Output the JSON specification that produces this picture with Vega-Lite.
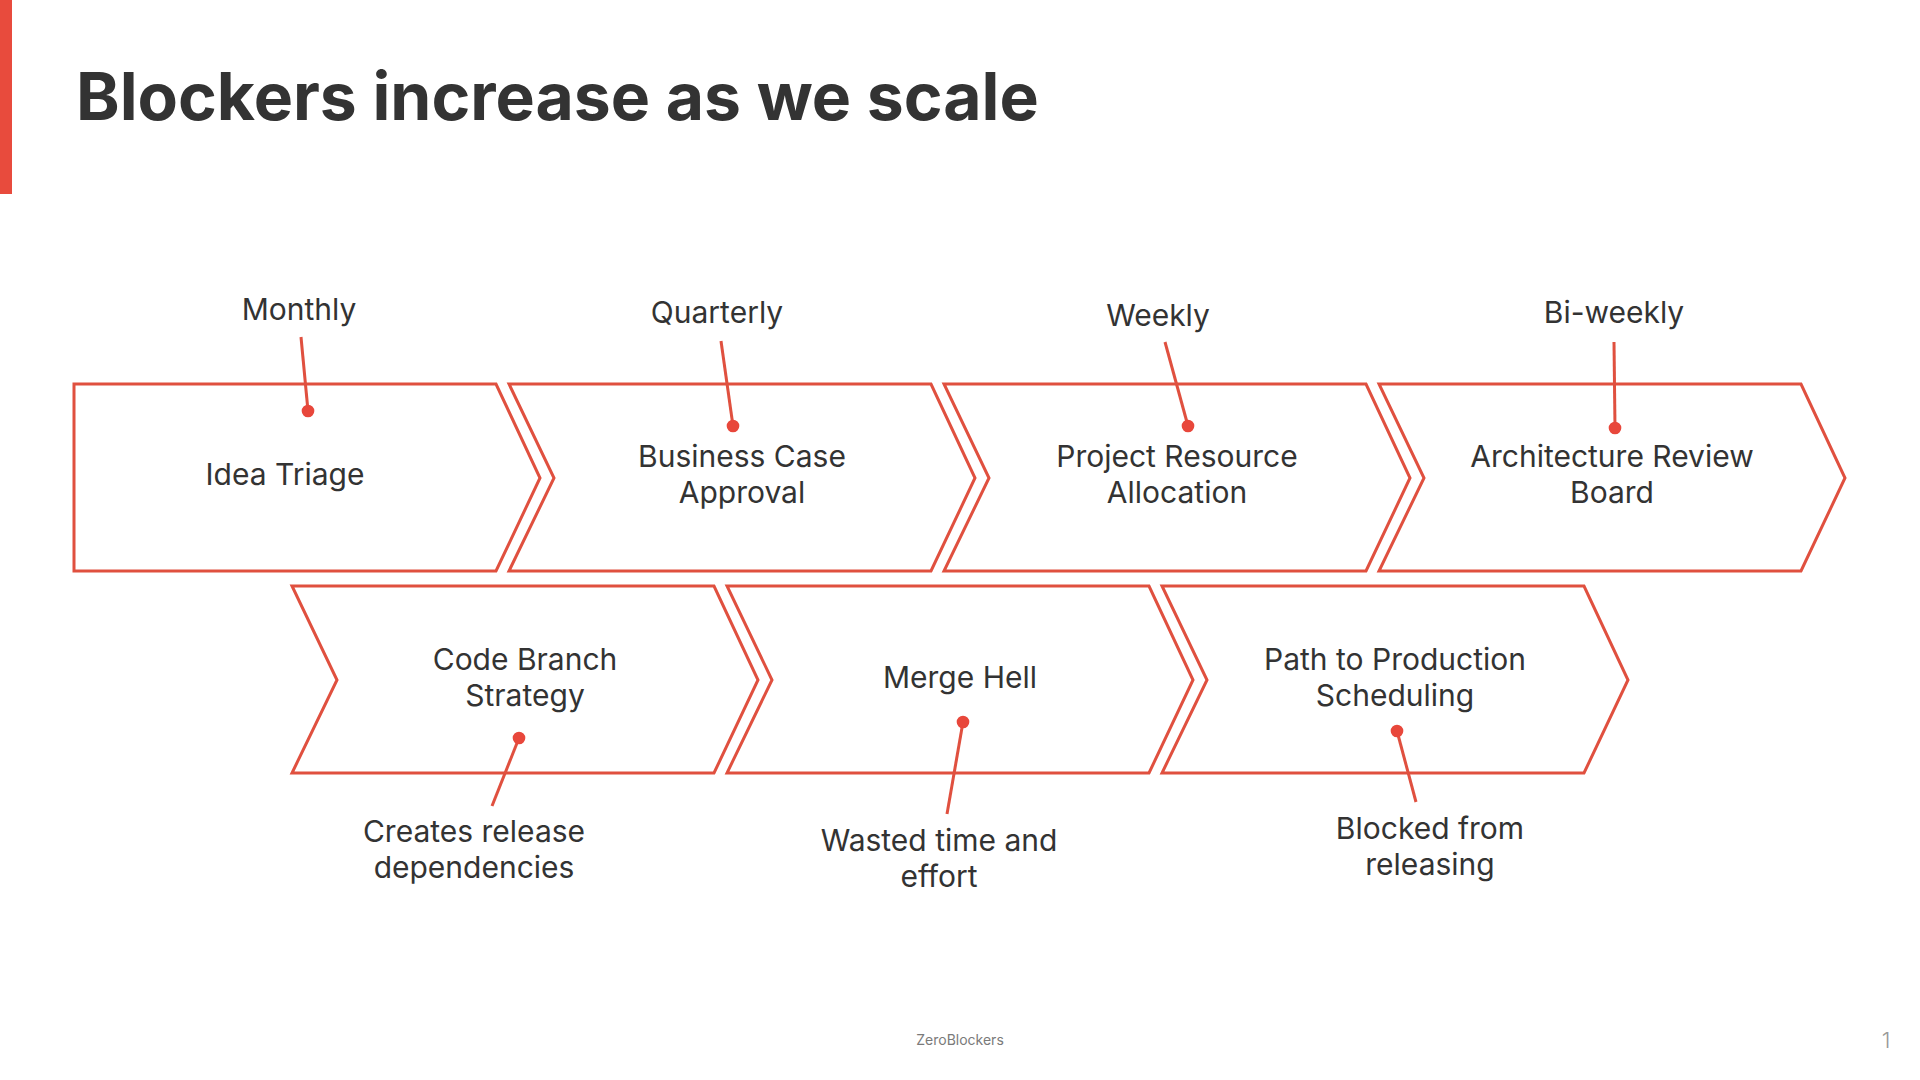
{
  "$schema": "https://vega.github.io/schema/vega-lite/v6.json",
  "width": 1920,
  "height": 1080,
  "autosize": {"type": "fit", "contains": "padding"},
  "padding": 0,
  "background": "#ffffff",
  "config": {"view": {"stroke": null}},
  "datasets": {
    "bar": [{"x": 0, "x2": 12, "y": 0, "y2": 194}],
    "title": [{"text": "Blockers increase as we scale", "x": 76, "y": 120}],
    "shapes": [
      {"shape": "A", "i": 1, "x": 74, "y": 384}, {"shape": "A", "i": 2, "x": 496, "y": 384}, {"shape": "A", "i": 3, "x": 540, "y": 478}, {"shape": "A", "i": 4, "x": 496, "y": 571}, {"shape": "A", "i": 5, "x": 74, "y": 571},
      {"shape": "B", "i": 1, "x": 509, "y": 384}, {"shape": "B", "i": 2, "x": 931, "y": 384}, {"shape": "B", "i": 3, "x": 975, "y": 478}, {"shape": "B", "i": 4, "x": 931, "y": 571}, {"shape": "B", "i": 5, "x": 509, "y": 571}, {"shape": "B", "i": 6, "x": 554, "y": 478},
      {"shape": "C", "i": 1, "x": 944, "y": 384}, {"shape": "C", "i": 2, "x": 1366, "y": 384}, {"shape": "C", "i": 3, "x": 1410, "y": 478}, {"shape": "C", "i": 4, "x": 1366, "y": 571}, {"shape": "C", "i": 5, "x": 944, "y": 571}, {"shape": "C", "i": 6, "x": 989, "y": 478},
      {"shape": "D", "i": 1, "x": 1379, "y": 384}, {"shape": "D", "i": 2, "x": 1801, "y": 384}, {"shape": "D", "i": 3, "x": 1845, "y": 478}, {"shape": "D", "i": 4, "x": 1801, "y": 571}, {"shape": "D", "i": 5, "x": 1379, "y": 571}, {"shape": "D", "i": 6, "x": 1424, "y": 478},
      {"shape": "E", "i": 1, "x": 292, "y": 586}, {"shape": "E", "i": 2, "x": 714, "y": 586}, {"shape": "E", "i": 3, "x": 758, "y": 680}, {"shape": "E", "i": 4, "x": 714, "y": 773}, {"shape": "E", "i": 5, "x": 292, "y": 773}, {"shape": "E", "i": 6, "x": 337, "y": 680},
      {"shape": "F", "i": 1, "x": 727, "y": 586}, {"shape": "F", "i": 2, "x": 1149, "y": 586}, {"shape": "F", "i": 3, "x": 1193, "y": 680}, {"shape": "F", "i": 4, "x": 1149, "y": 773}, {"shape": "F", "i": 5, "x": 727, "y": 773}, {"shape": "F", "i": 6, "x": 772, "y": 680},
      {"shape": "G", "i": 1, "x": 1162, "y": 586}, {"shape": "G", "i": 2, "x": 1584, "y": 586}, {"shape": "G", "i": 3, "x": 1628, "y": 680}, {"shape": "G", "i": 4, "x": 1584, "y": 773}, {"shape": "G", "i": 5, "x": 1162, "y": 773}, {"shape": "G", "i": 6, "x": 1207, "y": 680}
    ],
    "steps": [
      {"label": "Idea Triage", "x": 285, "y": 476},
      {"label": "Business Case\nApproval", "x": 742, "y": 458},
      {"label": "Project Resource\nAllocation", "x": 1177, "y": 458},
      {"label": "Architecture Review\nBoard", "x": 1612, "y": 458},
      {"label": "Code Branch\nStrategy", "x": 525, "y": 661},
      {"label": "Merge Hell", "x": 960, "y": 679},
      {"label": "Path to Production\nScheduling", "x": 1395, "y": 661}
    ],
    "notes": [
      {"note": "Monthly", "tx": 299, "ty": 311, "lx": 301, "ly": 337, "dx": 308, "dy": 411},
      {"note": "Quarterly", "tx": 717, "ty": 314, "lx": 721, "ly": 341, "dx": 733, "dy": 426},
      {"note": "Weekly", "tx": 1158, "ty": 317, "lx": 1165, "ly": 342, "dx": 1188, "dy": 426},
      {"note": "Bi-weekly", "tx": 1614, "ty": 314, "lx": 1614, "ly": 342, "dx": 1615, "dy": 428},
      {"note": "Creates release\ndependencies", "tx": 474, "ty": 833, "lx": 492, "ly": 806, "dx": 519, "dy": 738},
      {"note": "Wasted time and\neffort", "tx": 939, "ty": 842, "lx": 947, "ly": 814, "dx": 963, "dy": 722},
      {"note": "Blocked from\nreleasing", "tx": 1430, "ty": 830, "lx": 1416, "ly": 802, "dx": 1397, "dy": 731}
    ],
    "footer": [
      {"text": "ZeroBlockers", "x": 960, "y": 1041, "kind": "brand"},
      {"text": "1", "x": 1886, "y": 1041, "kind": "page"}
    ]
  },
  "layer": [
    {
      "data": {"name": "bar"},
      "mark": {"type": "rect", "color": "#E84B3D"},
      "encoding": {
        "x": {"field": "x", "type": "quantitative", "scale": {"domain": [0, 1920], "nice": false, "zero": false}, "axis": null},
        "x2": {"field": "x2"},
        "y": {"field": "y", "type": "quantitative", "scale": {"domain": [0, 1080], "nice": false, "zero": false, "reverse": true}, "axis": null},
        "y2": {"field": "y2"}
      }
    },
    {
      "data": {"name": "shapes"},
      "mark": {"type": "line", "interpolate": "linear-closed", "color": "#E0503F", "strokeWidth": 3, "strokeJoin": "miter"},
      "encoding": {
        "x": {"field": "x", "type": "quantitative", "scale": {"domain": [0, 1920], "nice": false, "zero": false}, "axis": null},
        "y": {"field": "y", "type": "quantitative", "scale": {"domain": [0, 1080], "nice": false, "zero": false, "reverse": true}, "axis": null},
        "detail": {"field": "shape", "type": "nominal"},
        "order": {"field": "i", "type": "quantitative"}
      }
    },
    {
      "data": {"name": "notes"},
      "mark": {"type": "rule", "color": "#E0503F", "strokeWidth": 3},
      "encoding": {
        "x": {"field": "lx", "type": "quantitative", "scale": {"domain": [0, 1920], "nice": false, "zero": false}, "axis": null},
        "x2": {"field": "dx"},
        "y": {"field": "ly", "type": "quantitative", "scale": {"domain": [0, 1080], "nice": false, "zero": false, "reverse": true}, "axis": null},
        "y2": {"field": "dy"}
      }
    },
    {
      "data": {"name": "notes"},
      "mark": {"type": "circle", "color": "#E8473B", "opacity": 1, "size": 160},
      "encoding": {
        "x": {"field": "dx", "type": "quantitative", "scale": {"domain": [0, 1920], "nice": false, "zero": false}, "axis": null},
        "y": {"field": "dy", "type": "quantitative", "scale": {"domain": [0, 1080], "nice": false, "zero": false, "reverse": true}, "axis": null}
      }
    },
    {
      "data": {"name": "notes"},
      "mark": {"type": "text", "font": "Inter", "fontSize": 30, "color": "#333333", "align": "center", "baseline": "middle", "lineBreak": "\n", "lineHeight": 36},
      "encoding": {
        "x": {"field": "tx", "type": "quantitative", "scale": {"domain": [0, 1920], "nice": false, "zero": false}, "axis": null},
        "y": {"field": "ty", "type": "quantitative", "scale": {"domain": [0, 1080], "nice": false, "zero": false, "reverse": true}, "axis": null},
        "text": {"field": "note", "type": "nominal"}
      }
    },
    {
      "data": {"name": "steps"},
      "mark": {"type": "text", "font": "Inter", "fontSize": 30, "color": "#333333", "align": "center", "baseline": "middle", "lineBreak": "\n", "lineHeight": 36},
      "encoding": {
        "x": {"field": "x", "type": "quantitative", "scale": {"domain": [0, 1920], "nice": false, "zero": false}, "axis": null},
        "y": {"field": "y", "type": "quantitative", "scale": {"domain": [0, 1080], "nice": false, "zero": false, "reverse": true}, "axis": null},
        "text": {"field": "label", "type": "nominal"}
      }
    },
    {
      "data": {"name": "title"},
      "mark": {"type": "text", "font": "Inter", "fontSize": 66, "fontWeight": 700, "color": "#333333", "align": "left", "baseline": "alphabetic"},
      "encoding": {
        "x": {"field": "x", "type": "quantitative", "scale": {"domain": [0, 1920], "nice": false, "zero": false}, "axis": null},
        "y": {"field": "y", "type": "quantitative", "scale": {"domain": [0, 1080], "nice": false, "zero": false, "reverse": true}, "axis": null},
        "text": {"field": "text", "type": "nominal"}
      }
    },
    {
      "data": {"name": "footer"},
      "transform": [{"filter": "datum.kind === 'brand'"}],
      "mark": {"type": "text", "font": "Inter", "fontSize": 14, "color": "#7a7a7a", "align": "center", "baseline": "middle"},
      "encoding": {
        "x": {"field": "x", "type": "quantitative", "scale": {"domain": [0, 1920], "nice": false, "zero": false}, "axis": null},
        "y": {"field": "y", "type": "quantitative", "scale": {"domain": [0, 1080], "nice": false, "zero": false, "reverse": true}, "axis": null},
        "text": {"field": "text", "type": "nominal"}
      }
    },
    {
      "data": {"name": "footer"},
      "transform": [{"filter": "datum.kind === 'page'"}],
      "mark": {"type": "text", "font": "Inter", "fontSize": 22, "fontWeight": 300, "color": "#9a9a9a", "align": "center", "baseline": "middle"},
      "encoding": {
        "x": {"field": "x", "type": "quantitative", "scale": {"domain": [0, 1920], "nice": false, "zero": false}, "axis": null},
        "y": {"field": "y", "type": "quantitative", "scale": {"domain": [0, 1080], "nice": false, "zero": false, "reverse": true}, "axis": null},
        "text": {"field": "text", "type": "nominal"}
      }
    }
  ]
}
